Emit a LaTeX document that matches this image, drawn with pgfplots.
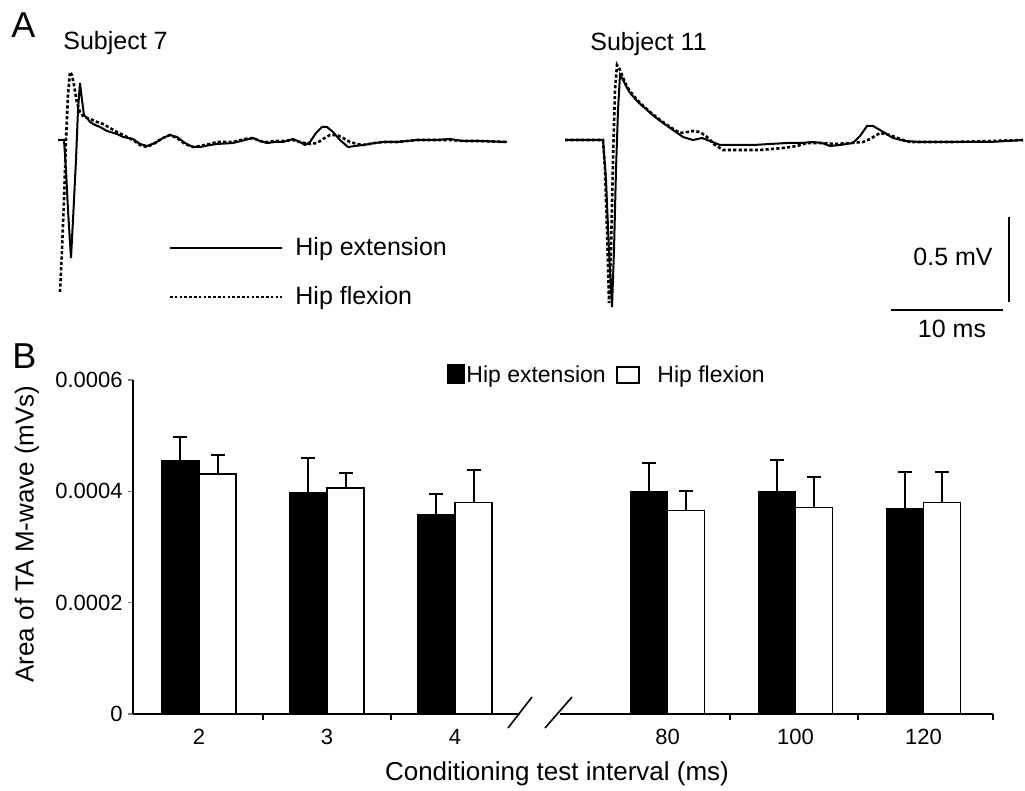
\documentclass[border=0pt]{standalone}
\usepackage{pgfplots}
\pgfplotsset{compat=1.18}
\usepackage{pgfplotstable}
\usepackage{fontspec}
\setmainfont{Liberation Sans}

% bar positions (left/right bar of each pair), heights and upper SEM (mVs)
\pgfplotstableread{
xe    xf    ext      exterr   flex     flexerr
-0.145 0.145 0.000456 0.000041 0.000431 0.000035
0.855 1.145 0.000398 0.000062 0.000406 0.000027
1.855 2.145 0.000358 0.000037 0.000380 0.000058
3.515 3.805 0.000400 0.000051 0.000366 0.000034
4.515 4.805 0.000400 0.000056 0.000371 0.000055
5.515 5.805 0.000369 0.000065 0.000380 0.000054
}\mwave

\newcommand\ftext{\fontsize{12.5bp}{15bp}\selectfont}
\newcommand\fpanel{\fontsize{18bp}{21bp}\selectfont}

\begin{document}
\begin{tikzpicture}
\path[use as bounding box] (0,0) rectangle (512.5bp,395.5bp);

% ---- panel B: bar chart
\begin{axis}[
  at={(66.5bp,38.5bp)}, anchor=south west,
  scale only axis, width=430bp, height=167bp,
  xmin=-0.516, xmax=6.203, ymin=0, ymax=0.0006,
  axis lines*=left,
  x axis line style={draw=none},
  y axis line style={line width=0.8bp},
  tick align=outside,
  major tick length=2.5bp,
  xtick={0,1,2,3.66,4.66,5.66},
  xticklabels={2,3,4,80,100,120},
  xtick style={draw=none},
  ytick={0,0.0002,0.0004,0.0006},
  yticklabels={0,0.0002,0.0004,0.0006},
  scaled y ticks=false,
  ytick style={line width=0.8bp},
  /pgf/number format/assume math mode=true,
  tick label style={font=\fontsize{11bp}{13bp}\selectfont},
  xticklabel style={anchor=center, yshift=-9bp},
  yticklabel style={anchor=east, inner sep=0pt, xshift=-2.5bp},
  xlabel={Conditioning test interval (ms)},
  ylabel={Area of TA M-wave (mVs)},
  label style={font=\fontsize{13bp}{15bp}\selectfont},
  xlabel style={at={(axis description cs:0.493,-0.18)}, anchor=center},
  ylabel style={at={(axis description cs:-0.1233,0.539)}, anchor=center, rotate=0},
]
\addplot[ybar, bar width=0.29, bar shift=0, fill=black, draw=black, line width=0.6bp,
  error bars/.cd, y dir=plus, y explicit,
  error bar style={line width=1bp},
  error mark options={rotate=90, line width=1bp, mark size=3.5bp}]
  table[x=xe, y=ext, y error=exterr] {\mwave};
\addplot[ybar, bar width=0.29, bar shift=0, fill=white, draw=black, line width=0.75bp,
  error bars/.cd, y dir=plus, y explicit,
  error bar style={line width=1bp},
  error mark options={rotate=90, line width=1bp, mark size=3.5bp}]
  table[x=xf, y=flex, y error=flexerr] {\mwave};
\end{axis}

% ---- overlay in image pixel coordinates: panel A traces and annotations
\begin{axis}[
  at={(0,0)}, anchor=south west,
  scale only axis, width=512.5bp, height=395.5bp,
  xmin=0, xmax=1025, ymin=0, ymax=791, y dir=reverse,
  hide axis, clip=false,
]
% subject 7, hip extension
\addplot[line width=1bp, no marks] coordinates {
(58,140) (64,140) (66,170) (68,210) (71,258) (73,220) (76,160) (78,110) (80,83)
(82,100) (84,115) (87,118) (90,122) (95,125) (100,127) (107,131) (117,134)
(123,137) (133,139) (140,144) (147,146) (155,143) (163,138) (170,135) (177,137)
(185,143) (193,147) (200,147) (210,145) (217,144) (233,143) (245,140) (253,138)
(260,141) (267,143) (275,142) (283,142) (293,139) (300,142) (305,145) (310,142)
(316,133) (322,127) (327,127) (333,132) (340,140) (348,147) (355,146) (363,145)
(375,143) (383,142) (397,142) (417,140) (435,140) (450,139) (463,141) (480,141)
(507,142)};
% subject 7, hip flexion
\addplot[line width=1.3bp, no marks, dash pattern=on 1.6bp off 1.1bp] coordinates {
(60,292) (62,250) (64,200) (66,140) (68,95) (70,72) (72,75) (74,85) (77,103)
(80,112) (84,117) (90,119) (97,122) (103,124) (110,128) (117,132) (125,136)
(133,140) (140,145) (147,147) (155,143) (163,138) (170,135) (177,138) (185,144)
(193,147) (200,146) (210,144) (217,142) (233,142) (245,139) (253,138) (260,141)
(267,142) (275,141) (283,141) (293,140) (300,142) (310,144) (317,143) (323,139)
(330,135) (337,135) (343,138) (350,142) (357,144) (363,145) (375,143) (383,142)
(397,142) (417,140) (435,140) (450,140) (463,141) (480,141) (507,142)};
% subject 11, hip extension
\addplot[line width=1bp, no marks] coordinates {
(565,140) (603,140) (606,180) (609,250) (612,307) (614,250) (616,170) (618,110)
(620,75) (622,78) (626,86) (630,93) (638,102) (647,110) (655,117) (663,123)
(673,130) (683,137) (693,140) (702,138) (710,141) (720,145) (735,145) (753,145)
(770,144) (787,143) (800,143) (813,142) (822,143) (830,146) (840,145) (853,143)
(860,136) (867,126) (873,126) (880,130) (893,138) (905,141) (920,142) (953,142)
(990,142) (1023,140)};
% subject 11, hip flexion
\addplot[line width=1.3bp, no marks, dash pattern=on 1.6bp off 1.1bp] coordinates {
(565,140) (603,140) (605,170) (607,230) (609,303) (611,250) (613,160) (615,90)
(617,65) (620,70) (624,80) (627,87) (633,95) (640,103) (650,112) (660,120)
(670,127) (680,133) (687,132) (693,131) (700,132) (707,137) (715,145) (723,150)
(740,150) (760,150) (783,148) (797,146) (807,143) (820,143) (835,144) (850,143)
(863,142) (870,139) (880,133) (890,135) (900,139) (910,142) (920,142) (953,142)
(990,141) (1023,140)};

% panel letters and subject titles
\node[anchor=base west, inner sep=0pt, font=\fpanel] at (axis cs:11,38) {A};
\node[anchor=base west, inner sep=0pt, font=\fpanel] at (axis cs:12,368) {B};
\node[anchor=base west, inner sep=0pt, font=\ftext] at (axis cs:63,50) {Subject 7};
\node[anchor=base west, inner sep=0pt, font=\ftext] at (axis cs:590,51) {Subject 11};

% panel A legend
\draw[line width=1bp] (axis cs:170,248) -- (axis cs:282,248);
\draw[line width=1.2bp, dash pattern=on 1.3bp off 1.1bp] (axis cs:170,297) -- (axis cs:282,297);
\node[anchor=base west, inner sep=0pt, font=\ftext] at (axis cs:295,255) {Hip extension};
\node[anchor=base west, inner sep=0pt, font=\ftext] at (axis cs:295,304) {Hip flexion};

% scale bars
\draw[line width=1bp] (axis cs:1009,217) -- (axis cs:1009,302);
\draw[line width=1bp] (axis cs:891,310) -- (axis cs:1003,310);
\node[anchor=base east, inner sep=0pt, font=\ftext] at (axis cs:993,265) {0.5 mV};
\node[anchor=base, inner sep=0pt, font=\ftext] at (axis cs:952,337) {10 ms};

% panel B legend
\draw[fill=black, line width=0.6bp] (axis cs:448,365) rectangle (axis cs:464,383);
\node[anchor=base west, inner sep=0pt, font=\fontsize{11.5bp}{14bp}\selectfont] at (axis cs:466,382) {Hip extension};
\draw[line width=0.75bp] (axis cs:617,367) rectangle (axis cs:639,383);
\node[anchor=base west, inner sep=0pt, font=\fontsize{11.5bp}{14bp}\selectfont] at (axis cs:657,382) {Hip flexion};

% panel B broken x axis
\draw[line width=0.8bp] (axis cs:133,714) -- (axis cs:520,714);
\draw[line width=0.8bp] (axis cs:560,714) -- (axis cs:993,714);
\draw[line width=0.8bp] (axis cs:263,714) -- (axis cs:263,720);
\draw[line width=0.8bp] (axis cs:391,714) -- (axis cs:391,720);
\draw[line width=0.8bp] (axis cs:730,714) -- (axis cs:730,720);
\draw[line width=0.8bp] (axis cs:858,714) -- (axis cs:858,720);
\draw[line width=0.8bp] (axis cs:993,714) -- (axis cs:993,720);
\draw[line width=0.8bp] (axis cs:508,728) -- (axis cs:532,697);
\draw[line width=0.8bp] (axis cs:545,728) -- (axis cs:572,697);
\end{axis}
\end{tikzpicture}
\end{document}
